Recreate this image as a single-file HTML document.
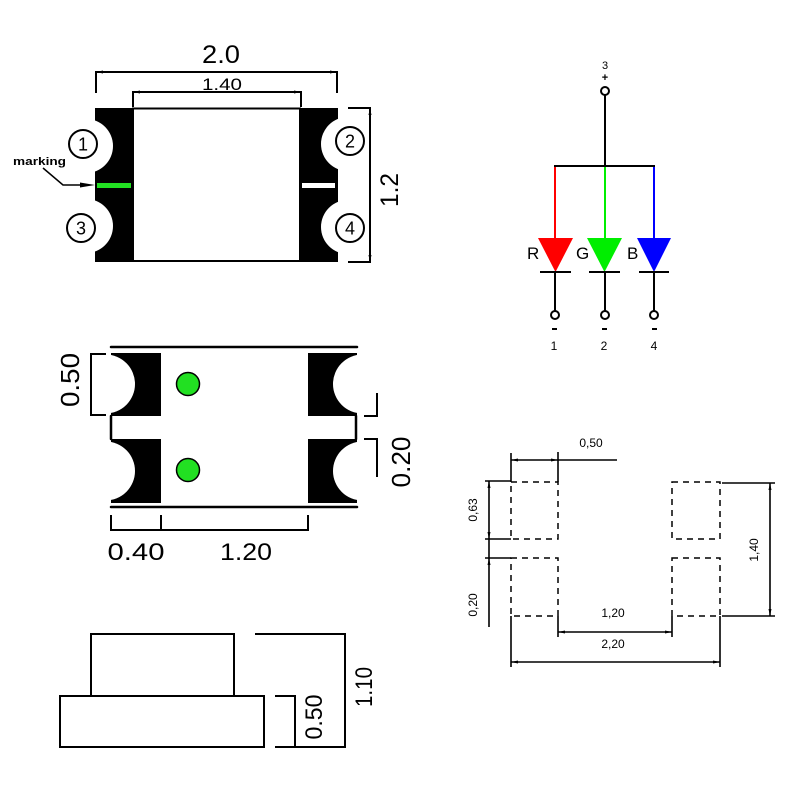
<!DOCTYPE html>
<html><head><meta charset="utf-8"><style>
html,body{margin:0;padding:0;background:#fff;}
svg{display:block;}
text{font-family:"Liberation Sans",sans-serif;fill:#000;}
</style></head><body>
<svg width="800" height="800" viewBox="0 0 800 800" xmlns="http://www.w3.org/2000/svg">
<rect width="800" height="800" fill="#fff"/>

<!-- ===== TOP VIEW ===== -->
<g>
  <!-- pads -->
  <rect x="95" y="108" width="38" height="154" fill="#000"/>
  <rect x="300" y="108" width="38" height="154" fill="#000"/>
  <circle cx="86" cy="146" r="27" fill="#fff"/>
  <circle cx="86" cy="226" r="27" fill="#fff"/>
  <circle cx="348" cy="144" r="27" fill="#fff"/>
  <circle cx="348" cy="227" r="27" fill="#fff"/>
  <!-- body -->
  <rect x="133" y="108.5" width="167" height="152.5" fill="#fff" stroke="#000" stroke-width="2"/>
  <!-- markings -->
  <rect x="97" y="183" width="34" height="5" fill="#22e022"/>
  <rect x="302" y="183" width="33" height="5" fill="#fff"/>
  <!-- circled numbers -->
  <g fill="none" stroke="#000" stroke-width="2">
    <circle cx="83" cy="144" r="14"/>
    <circle cx="81" cy="228" r="14"/>
    <circle cx="350" cy="141" r="14"/>
    <circle cx="350" cy="228" r="14"/>
  </g>
  <g font-size="18" text-anchor="middle">
    <text x="83" y="150.5">1</text>
    <text x="81" y="234.5">3</text>
    <text x="350" y="147.5">2</text>
    <text x="350" y="234.5">4</text>
  </g>
  <!-- marking leader -->
  <text x="13" y="165" font-size="11" font-weight="bold" textLength="53" lengthAdjust="spacingAndGlyphs">marking</text>
  <polyline points="43,168 63,185 82,185" fill="none" stroke="#000" stroke-width="1.5"/>
  <path d="M80,182.5 L95,185 L80,187.5 Z" fill="#000"/>
  <!-- dim 2.0 -->
  <g stroke="#000" stroke-width="2" fill="none">
    <polyline points="96,93 96,72 337,72 337,93"/>
    <polyline points="133,107 133,92 301,92 301,107"/>
    <polyline points="348,108 370,108 370,262 348,262"/>
  </g>
  <g fill="#000">
    <path d="M96,72 l7,-1.5 v3 z"/><path d="M337,72 l-7,-1.5 v3 z"/>
    <path d="M133,92 l7,-1.5 v3 z"/><path d="M301,92 l-7,-1.5 v3 z"/>
    <path d="M370,108 l-1.5,7 h3 z"/><path d="M370,262 l-1.5,-7 h3 z"/>
  </g>
  <text x="221" y="63" font-size="25" text-anchor="middle" textLength="38" lengthAdjust="spacingAndGlyphs">2.0</text>
  <text x="222" y="90" font-size="16.5" text-anchor="middle" textLength="40" lengthAdjust="spacingAndGlyphs">1.40</text>
  <text transform="translate(398,190) rotate(-90)" font-size="25" text-anchor="middle" textLength="34" lengthAdjust="spacingAndGlyphs">1.2</text>
</g>

<!-- ===== SCHEMATIC ===== -->
<g>
  <text x="605" y="69" font-size="11" text-anchor="middle">3</text>
  <text x="605" y="81" font-size="11" text-anchor="middle" font-weight="bold">+</text>
  <circle cx="605" cy="91" r="4" fill="#fff" stroke="#000" stroke-width="2"/>
  <line x1="605" y1="95" x2="605" y2="166" stroke="#000" stroke-width="2"/>
  <line x1="554" y1="166" x2="655" y2="166" stroke="#000" stroke-width="2"/>
  <line x1="555" y1="167" x2="555" y2="240" stroke="#ff0000" stroke-width="2"/>
  <line x1="605" y1="167" x2="605" y2="240" stroke="#00ee00" stroke-width="2"/>
  <line x1="654" y1="167" x2="654" y2="240" stroke="#0000ff" stroke-width="2"/>
  <polygon points="538,238 573,238 555.5,272" fill="#ff0000"/>
  <polygon points="587,238 622,238 604.5,272" fill="#00ee00"/>
  <polygon points="637,238 671,238 654,272" fill="#0000ff"/>
  <g stroke="#000" stroke-width="2">
    <line x1="540" y1="272" x2="571" y2="272"/>
    <line x1="589" y1="272" x2="620" y2="272"/>
    <line x1="639" y1="272" x2="669" y2="272"/>
    <line x1="555" y1="272" x2="555" y2="311"/>
    <line x1="605" y1="272" x2="605" y2="311"/>
    <line x1="654" y1="272" x2="654" y2="311"/>
    <line x1="552" y1="329" x2="557" y2="329"/>
    <line x1="602" y1="329" x2="607" y2="329"/>
    <line x1="652" y1="329" x2="657" y2="329"/>
  </g>
  <g fill="#fff" stroke="#000" stroke-width="2">
    <circle cx="555" cy="315" r="4"/>
    <circle cx="605" cy="315" r="4"/>
    <circle cx="654" cy="315" r="4"/>
  </g>
  <g font-size="12" text-anchor="middle">
    <text x="554" y="350">1</text>
    <text x="604" y="350">2</text>
    <text x="654" y="350">4</text>
  </g>
  <g font-size="17">
    <text x="527" y="259">R</text>
    <text x="576" y="259">G</text>
    <text x="627" y="259">B</text>
  </g>
</g>

<!-- ===== SIDE VIEW (middle) ===== -->
<g>
  <rect x="111" y="353" width="50" height="63" fill="#000"/>
  <rect x="111" y="439" width="50" height="64" fill="#000"/>
  <rect x="308" y="353" width="49" height="63" fill="#000"/>
  <rect x="308" y="439" width="49" height="64" fill="#000"/>
  <circle cx="105.5" cy="384" r="29.5" fill="#fff"/>
  <circle cx="105.5" cy="471" r="29.5" fill="#fff"/>
  <circle cx="362.5" cy="384" r="29.5" fill="#fff"/>
  <circle cx="362.5" cy="471" r="29.5" fill="#fff"/>
  <g stroke="#000" stroke-width="2.5" stroke-linecap="round" fill="none">
    <line x1="111" y1="347" x2="357" y2="347"/>
    <line x1="111" y1="507" x2="357" y2="507"/>
    <line x1="111" y1="416" x2="111" y2="439"/>
    <line x1="356" y1="416" x2="356" y2="439"/>
  </g>
  <circle cx="188" cy="384" r="11.5" fill="#22e022" stroke="#000" stroke-width="1.5"/>
  <circle cx="188" cy="470" r="11.5" fill="#22e022" stroke="#000" stroke-width="1.5"/>
  <!-- dims -->
  <g stroke="#000" stroke-width="2" fill="none">
    <polyline points="106,354 91,354 91,415 106,415"/>
    <polyline points="364,416 377,416 377,393"/>
    <polyline points="364,439 377,439 377,477"/>
    <polyline points="111,515 111,530 308,530 308,515"/>
    <line x1="161" y1="515" x2="161" y2="530"/>
  </g>
  <text transform="translate(79,380) rotate(-90)" font-size="26" text-anchor="middle" textLength="54" lengthAdjust="spacingAndGlyphs">0.50</text>
  <text transform="translate(410,462) rotate(-90)" font-size="26" text-anchor="middle" textLength="51" lengthAdjust="spacingAndGlyphs">0.20</text>
  <text x="136" y="560" font-size="24" text-anchor="middle" textLength="57" lengthAdjust="spacingAndGlyphs">0.40</text>
  <text x="246" y="560" font-size="24" text-anchor="middle" textLength="52" lengthAdjust="spacingAndGlyphs">1.20</text>
</g>

<!-- ===== FOOTPRINT ===== -->
<g>
  <g fill="none" stroke="#000" stroke-width="1.5" stroke-dasharray="6 5">
    <rect x="511" y="482" width="47" height="57"/>
    <rect x="511" y="558" width="47" height="58"/>
    <rect x="672" y="482" width="48" height="57"/>
    <rect x="672" y="558" width="48" height="58"/>
  </g>
  <g stroke="#000" stroke-width="1.6" fill="none">
    <line x1="511" y1="453" x2="511" y2="482"/>
    <line x1="558" y1="452" x2="558" y2="482"/>
    <line x1="511" y1="460" x2="617" y2="460"/>
    <line x1="485" y1="481" x2="511" y2="481"/>
    <line x1="485" y1="539" x2="511" y2="539"/>
    <line x1="485" y1="558" x2="511" y2="558"/>
    <line x1="489" y1="481" x2="489" y2="627"/>
    <line x1="722" y1="483" x2="775" y2="483"/>
    <line x1="722" y1="616" x2="775" y2="616"/>
    <line x1="770" y1="483" x2="770" y2="616"/>
    <line x1="558" y1="616" x2="558" y2="637"/>
    <line x1="672" y1="616" x2="672" y2="637"/>
    <line x1="558" y1="632" x2="672" y2="632"/>
    <line x1="511" y1="616" x2="511" y2="667"/>
    <line x1="720" y1="616" x2="720" y2="667"/>
    <line x1="511" y1="662" x2="720" y2="662"/>
  </g>
  <g fill="#000">
    <path d="M511,460 l7,-1.5 v3 z"/><path d="M558,460 l-7,-1.5 v3 z"/>
    <path d="M489,481 l-1.5,7 h3 z"/><path d="M489,539 l-1.5,-7 h3 z"/>
    <path d="M489,558 l-1.5,7 h3 z"/>
    <path d="M770,483 l-1.5,7 h3 z"/><path d="M770,616 l-1.5,-7 h3 z"/>
    <path d="M558,632 l7,-1.5 v3 z"/><path d="M672,632 l-7,-1.5 v3 z"/>
    <path d="M511,662 l7,-1.5 v3 z"/><path d="M720,662 l-7,-1.5 v3 z"/>
  </g>
  <g font-size="12" text-anchor="middle">
    <text x="591" y="447">0,50</text>
    <text x="613" y="617">1,20</text>
    <text x="613" y="648">2,20</text>
    <text transform="translate(477,510) rotate(-90)">0,63</text>
    <text transform="translate(477,605) rotate(-90)">0,20</text>
    <text transform="translate(758,550) rotate(-90)">1,40</text>
  </g>
</g>

<!-- ===== BOTTOM SIDE VIEW ===== -->
<g>
  <g fill="none" stroke="#000" stroke-width="2">
    <rect x="91" y="634" width="143" height="62"/>
    <rect x="60" y="696" width="204" height="51"/>
    <polyline points="255,634 345,634 345,747 275,747"/>
    <polyline points="275,696 295,696 295,747"/>
  </g>
  <text transform="translate(322,717) rotate(-90)" font-size="24" text-anchor="middle" textLength="45" lengthAdjust="spacingAndGlyphs">0.50</text>
  <text transform="translate(372,687) rotate(-90)" font-size="24" text-anchor="middle" textLength="40" lengthAdjust="spacingAndGlyphs">1.10</text>
</g>
</svg>
</body></html>
